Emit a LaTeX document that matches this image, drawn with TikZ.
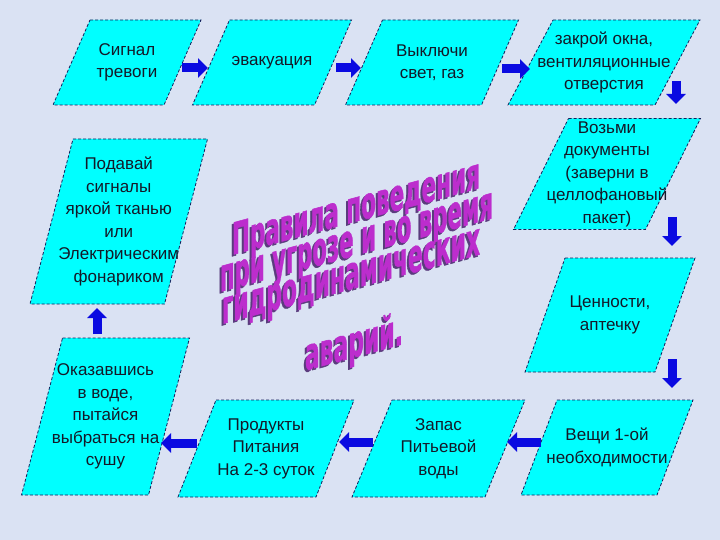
\documentclass[tikz,border=0pt]{standalone}
\usepackage{fontspec}
\setmainfont{Liberation Sans}
\newfontfamily\titlefont[FakeBold=1.2]{DejaVu Sans}
\usepackage{graphicx}
\usetikzlibrary{arrows.meta}
\definecolor{bg}{RGB}{218,226,243}
\definecolor{boxcyan}{RGB}{0,255,255}
\definecolor{boxedge}{RGB}{20,30,90}
\definecolor{arrblue}{RGB}{10,10,225}
\definecolor{titlemag}{RGB}{188,45,205}
\definecolor{titleshadow}{RGB}{90,60,125}
\definecolor{txt}{RGB}{20,25,40}
\tikzset{
 pbox/.style={fill=boxcyan, draw=boxedge, line width=0.8pt, dash pattern=on 3pt off 2pt},
 ptext/.style={align=center, text=txt, font=\fontsize{17}{22.5}\selectfont, inner sep=0pt},
 blockarr/.style={draw=arrblue, line width=9pt, -{Triangle[length=10pt,width=19pt]}},
 titleline/.style={yslant=0.27, inner sep=0pt, text=titlemag, font=\titlefont\bfseries},
 titleshade/.style={yslant=0.27, inner sep=0pt, text=titleshadow, font=\titlefont\bfseries},
}
% name, cx, cy, w, h, slant, text
\newcommand\pgm[7]{%
  \draw[pbox] ({#2-#4/2+#6/2},{#3-#5/2}) -- ({#2+#4/2+#6/2},{#3-#5/2})
     -- ({#2+#4/2-#6/2},{#3+#5/2}) -- ({#2-#4/2-#6/2},{#3+#5/2}) -- cycle;
  \node[ptext] (#1) at (#2,#3) {#7};
}
% name, x, y, width, height, text
\newcommand\tline[6]{%
  \node[titleshade] (#1s) at ({#2-2},{#3+2}) {\resizebox{#4pt}{#5pt}{#6}};
  \node[titleline] (#1) at (#2,#3) {\resizebox{#4pt}{#5pt}{#6}};
}
\begin{document}
\begin{tikzpicture}[x=1pt,y=-1pt]
\fill[bg] (0,0) rectangle (720,540);
\useasboundingbox (0,0) rectangle (720,540);

% boxes
\pgm{b1}{127}{62.5}{111}{85}{37}{Сигнал\\тревоги}
\pgm{b2}{272}{62.5}{122}{85}{37}{эвакуация}
\pgm{b3}{432}{62.5}{136}{85}{37}{Выключи\\свет, газ}
\pgm{b4}{604}{62.5}{147}{85}{45}{закрой окна,\\вентиляционные\\отверстия}
\pgm{b5}{607}{174}{132}{111}{55}{Возьми\\документы\\(заверни в\\целлофановый\\пакет)}
\pgm{b6}{610}{315}{130}{114}{40}{Ценности,\\аптечку}
\pgm{b7}{607}{447.5}{136}{95}{36}{Вещи 1-ой\\необходимости}
\pgm{b8}{438.5}{448.5}{133}{97}{40}{Запас\\Питьевой\\воды}
\pgm{b9}{266}{448.5}{138}{97}{38}{Продукты\\Питания\\На 2-3 суток}
\pgm{b10}{105.5}{416.5}{127}{157}{41}{Оказавшись\\в воде,\\пытайся\\выбраться на\\сушу}
\pgm{b11}{118.75}{221.5}{134.5}{165}{43}{Подавай\\сигналы\\яркой тканью\\или\\Электрическим\\фонариком}

% arrows
\coordinate (a12s) at (182,68);  \coordinate (a12e) at (208,68);
\coordinate (a23s) at (336,68);  \coordinate (a23e) at (361,68);
\coordinate (a34s) at (502,69);  \coordinate (a34e) at (530,69);
\coordinate (a45s) at (676,81);  \coordinate (a45e) at (676,104);
\coordinate (a56s) at (672,217); \coordinate (a56e) at (672,246);
\coordinate (a67s) at (672,359); \coordinate (a67e) at (672,388);
\coordinate (a78s) at (541,442); \coordinate (a78e) at (507,442);
\coordinate (a89s) at (373,442); \coordinate (a89e) at (339,442);
\coordinate (a910s) at (197,443); \coordinate (a910e) at (161,443);
\coordinate (a1011s) at (97,334); \coordinate (a1011e) at (97,308);
\foreach \a in {a12,a23,a34,a45,a56,a67,a78,a89,a910,a1011}
  \draw[blockarr] (\a s) -- (\a e);

% title
\tline{t1}{356}{210}{248}{32}{Правила поведения}
\tline{t2}{356.5}{247}{273}{26}{при угрозе и во время}
\tline{t3}{351}{281}{258}{26}{гидродинамических}
\tline{t4}{354}{345}{98}{34}{аварий.}
\end{tikzpicture}
\end{document}
